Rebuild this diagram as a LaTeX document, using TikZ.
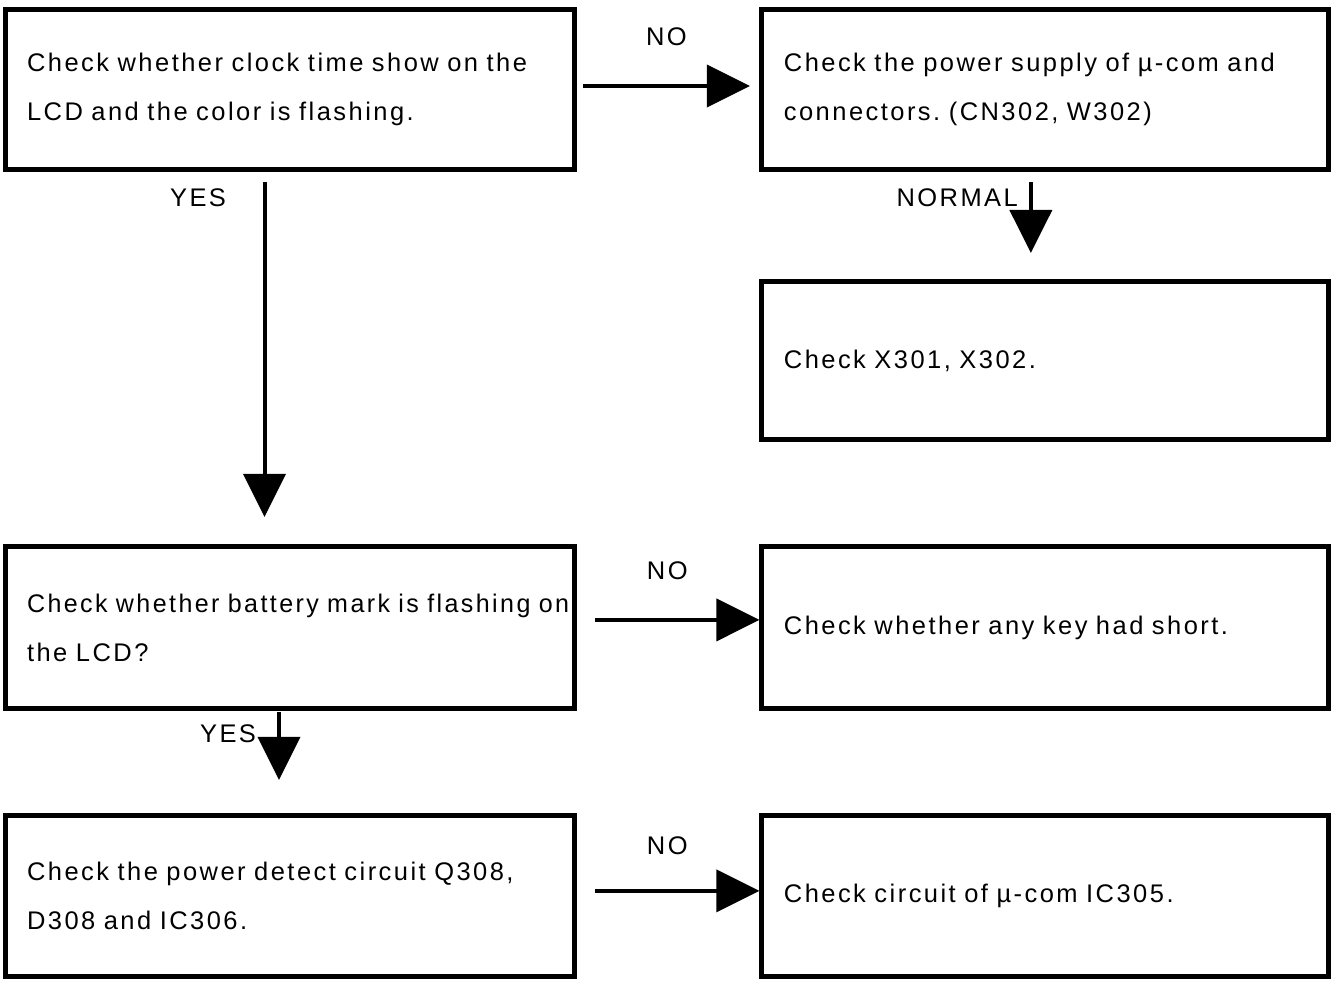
\documentclass[tikz,border=0pt]{standalone}
\usepackage{fontspec}
\usepackage{graphicx}
\setmainfont{Liberation Sans}[LetterSpace=9.7]
\usepackage{tikz}
\usetikzlibrary{arrows.meta, positioning}
\frenchspacing

\begin{document}
\begin{tikzpicture}[
  x=0.02cm, y=-0.02cm,
  node distance=3.64cm,
  box/.style={rectangle, draw, line width=0.1cm, minimum width=11.4cm, text width=10.52cm, inner xsep=0.44cm, align=left, font=\fontsize{14.5pt}{27.9pt}\selectfont},
  rbox/.style={box, minimum width=11.34cm, text width=10.46cm},
  arrow/.style={-{Triangle[length=0.86cm, width=0.84cm]}, line width=0.08cm},
  lbl/.style={inner sep=0pt, font=\fontsize{14.5pt}{17pt}\selectfont}
]
  \useasboundingbox (0,0) rectangle (1337,981);

  % Nodes
  \node (clock) [box, minimum height=3.22cm] at (290,89.5) {\mbox{Check whether clock time show on the}\\\mbox{LCD and the color is flashing.}};
  \node (power) [rbox, minimum height=3.22cm, right=of clock] {\mbox{Check the power supply of µ-com and}\\\mbox{connectors. (CN302, W302)}};
  \node (xtal) [rbox, minimum height=3.16cm, below=2.14cm of power] {\mbox{Check X301, X302.}};

  \node (battery) [box, minimum height=3.24cm, below=7.44cm of clock] {\scalebox{0.982}[1]{Check whether battery mark is flashing on}\\\mbox{the LCD?}};
  \node (keys) [rbox, minimum height=3.24cm, right=of battery] {\mbox{Check whether any key had short.}};

  \node (detect) [box, minimum height=3.22cm, below=2.04cm of battery] {\mbox{Check the power detect circuit Q308,}\\\mbox{D308 and IC306.}};
  \node (mcu) [rbox, minimum height=3.22cm, right=of detect] {\mbox{Check circuit of µ-com IC305.}};

  % Connectors
  \draw [arrow] ([xshift=0.11cm, yshift=0.07cm]clock.east) -- node[lbl, anchor=base, yshift=0.82cm] {NO} ([xshift=-0.19cm, yshift=0.07cm]power.west);
  \draw [arrow] ([xshift=-0.51cm, yshift=-0.19cm]clock.south) -- node[lbl, pos=0, anchor=base east, xshift=-0.73cm, yshift=-0.5cm] {YES} ([xshift=-0.51cm, yshift=0.55cm]battery.north);
  \draw [arrow] ([xshift=-0.29cm, yshift=-0.19cm]power.south) -- node[lbl, pos=0, anchor=base east, xshift=-0.22cm, yshift=-0.5cm] {NORMAL} ([xshift=-0.29cm, yshift=0.53cm]xtal.north);

  \draw [arrow] ([xshift=0.35cm, yshift=0.16cm]battery.east) -- node[lbl, pos=0.44, anchor=base, yshift=0.8cm] {NO} ([yshift=0.16cm]keys.west);
  \draw [arrow] ([xshift=-0.22cm, yshift=-0.01cm]battery.south) -- node[lbl, pos=0, anchor=base east, xshift=-0.42cm, yshift=-0.62cm] {YES} ([xshift=-0.22cm, yshift=0.67cm]detect.north);

  \draw [arrow] ([xshift=0.35cm, yshift=0.11cm]detect.east) -- node[lbl, pos=0.44, anchor=base, yshift=0.72cm] {NO} ([yshift=0.11cm]mcu.west);
\end{tikzpicture}
\end{document}
